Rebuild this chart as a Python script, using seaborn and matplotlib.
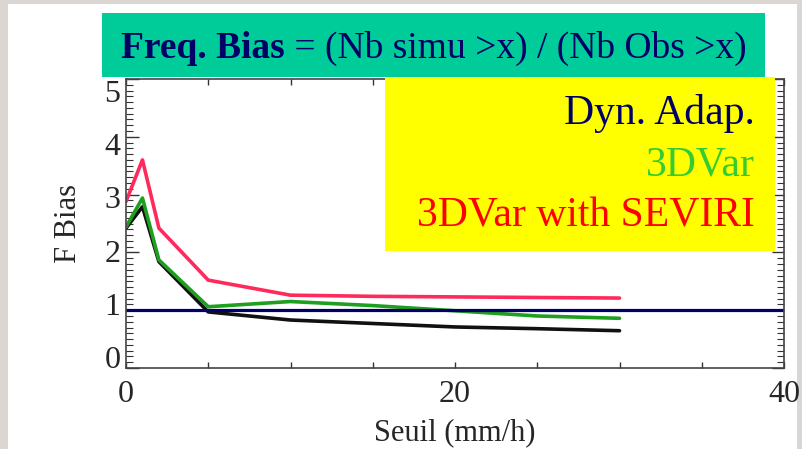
import pandas as pd
import matplotlib.pyplot as plt
import seaborn as sns
from matplotlib.patches import Rectangle
from matplotlib.ticker import MultipleLocator
from matplotlib.transforms import ScaledTranslation

# valeurs
seuil = [0, 1, 2, 5, 10, 15, 20, 25, 30]
dyn_adap = [2.42, 2.79, 1.84, 0.97, 0.83, 0.77, 0.71, 0.68, 0.645]
var3d = [2.44, 2.94, 1.87, 1.06, 1.15, 1.08, 0.99, 0.90, 0.86]
var3d_seviri = [2.88, 3.60, 2.42, 1.52, 1.26, 1.24, 1.23, 1.22, 1.21]
noms = ['Dyn. Adap.', '3DVar', '3DVar with SEVIRI']
yticks = [0, 1, 2, 3, 4, 5]

df = pd.DataFrame({
    'Seuil': seuil * 3,
    'F Bias': dyn_adap + var3d + var3d_seviri,
    'Exp': [noms[0]] * len(seuil) + [noms[1]] * len(seuil) + [noms[2]] * len(seuil),
})

sns.set_style('ticks')
plt.rcParams['font.family'] = ['Liberation Serif', 'DejaVu Serif']

fig = plt.figure(figsize=(8.03, 4.49), dpi=100, facecolor='#dcd6d3')
fig.patches.append(Rectangle((8 / 803, 0), 789 / 803, 445 / 449, transform=fig.transFigure,
                             facecolor='white', edgecolor='none', zorder=-10))

ax = fig.add_axes([126 / 803, 81 / 449, 658 / 803, 289 / 449])
ax.set_facecolor('white')

couleurs = {noms[0]: '#111111', noms[1]: '#1f9f1f', noms[2]: '#ff2a5c'}
sns.lineplot(data=df, x='Seuil', y='F Bias', hue='Exp', palette=couleurs,
             linewidth=2.6, legend=False, ax=ax)
ax.axhline(1, color='#000066', linewidth=2.3)

ax.set_xlim(0, 40)
ax.set_ylim(0, 5)
ax.xaxis.set_major_locator(MultipleLocator(20))
ax.xaxis.set_minor_locator(MultipleLocator(5))
ax.set_yticks(yticks)
ax.yaxis.set_minor_locator(MultipleLocator(0.1))
ax.tick_params(which='both', direction='in', top=True, right=True, color='#333333')
ax.tick_params(axis='x', which='both', length=4, width=1, pad=9, labelsize=23)
ax.tick_params(axis='y', which='major', length=9, width=1, pad=4, labelsize=23)
ax.tick_params(axis='y', which='minor', length=5, width=0.8)
for s in ax.spines.values():
    s.set_color('#444444')
    s.set_linewidth(1.2)

# les etiquettes de l'axe y sont un peu resserrees sur l'original
for v, lab in zip(yticks, ax.get_yticklabels()):
    dy = (11 - 4.6 * v) / 100
    lab.set_transform(lab.get_transform() + ScaledTranslation(0, dy, fig.dpi_scale_trans))

ax.set_xlabel('Seuil (mm/h)', fontsize=22)
ax.set_ylabel('F Bias', fontsize=22)
ax.xaxis.set_label_coords(0.5, -0.175)
ax.yaxis.set_label_coords(-0.066, 0.5)

# cadre du titre
fig.patches.append(Rectangle((102 / 803, 1 - 77 / 449), 663 / 803, 64 / 449,
                             transform=fig.transFigure, facecolor='#00cc99',
                             edgecolor='none', zorder=5))
t1 = fig.text(121 / 803, 1 - 58 / 449, 'Freq. Bias', fontsize=27, fontweight='bold',
              color='#000066', ha='left', va='baseline', zorder=6)
fig.canvas.draw()
bb = t1.get_window_extent()
fig.text(bb.x1 / fig.bbox.width, 1 - 58 / 449, ' = (Nb simu >x) / (Nb Obs >x)',
         fontsize=27, color='#000066', ha='left', va='baseline', zorder=6)

# cadre de la légende
fig.patches.append(Rectangle((385 / 803, 1 - 251 / 449), 390 / 803, 174 / 449,
                             transform=fig.transFigure, facecolor='#ffff00',
                             edgecolor='none', zorder=5))
legende = [(noms[0], '#000066', 124), (noms[1], '#33cc33', 175), (noms[2], '#ff0000', 226)]
for nom, c, yb in legende:
    fig.text(755 / 803, 1 - yb / 449, nom, fontsize=30, color=c,
             ha='right', va='baseline', zorder=6)

plt.savefig('out.png', dpi=100, facecolor=fig.get_facecolor())
